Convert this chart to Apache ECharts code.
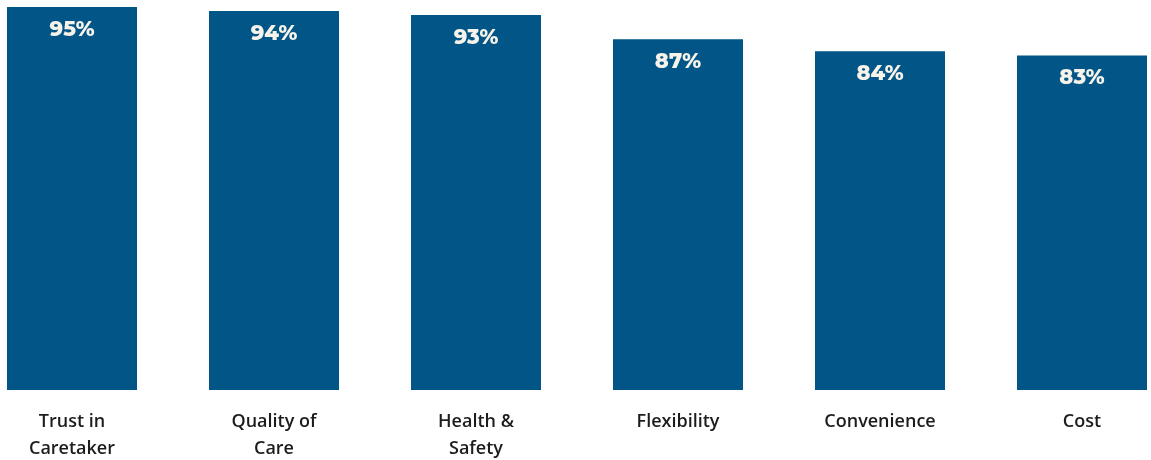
<!DOCTYPE html>
<html>
<head>
<meta charset="utf-8">
<script src="https://cdn.jsdelivr.net/npm/echarts@6/dist/echarts.min.js"></script>
<style>
  html, body { margin: 0; padding: 0; background: #ffffff; }
  #chart { width: 1151px; height: 460px; }
</style>
</head>
<body>
<div id="chart"></div>
<script>
// Share of respondents rating each factor as important
const categories = ['Trust in\nCaretaker', 'Quality of\nCare', 'Health &\nSafety', 'Flexibility', 'Convenience', 'Cost'];
const values = [95, 94, 93, 87, 84, 83];

const chart = echarts.init(document.getElementById('chart'));
chart.setOption({
  animation: false,
  grid: { left: 72, right: 69, top: 7, bottom: 70, containLabel: false, outerBoundsMode: 'none' },
  xAxis: {
    type: 'category',
    data: categories,
    boundaryGap: false,
    axisLine: { show: false },
    axisTick: { show: false },
    axisLabel: {
      interval: 0,
      margin: 18,
      color: '#1c1c1c',
      fontFamily: '"Open Sans", Lato, sans-serif',
      fontWeight: 600,
      fontSize: 18,
      lineHeight: 27
    }
  },
  yAxis: {
    type: 'value',
    min: 0,
    max: 95,
    show: false,
    splitLine: { show: false }
  },
  series: [{
    type: 'bar',
    data: values,
    barWidth: 130,
    itemStyle: { color: '#015587' },
    label: {
      show: true,
      position: 'insideTop',
      distance: 12,
      formatter: '{c}%',
      color: '#f7f3ea',
      fontFamily: 'Montserrat, Lato, "Open Sans", sans-serif',
      fontWeight: 800,
      fontSize: 21
    }
  }]
});
</script>
</body>
</html>
